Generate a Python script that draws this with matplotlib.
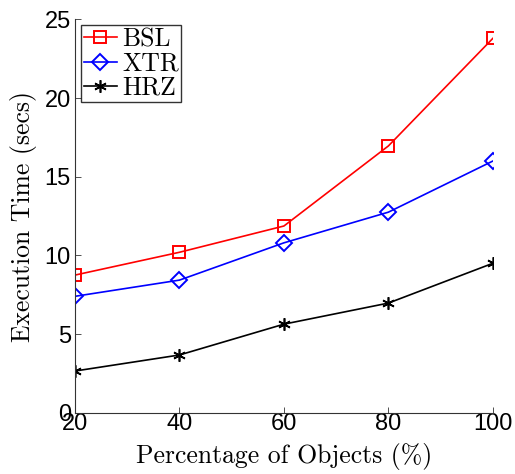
import matplotlib
matplotlib.use("Agg")
import matplotlib.pyplot as plt

# Execution time vs. percentage of objects
pct = [20, 40, 60, 80, 100]
bsl = [8.75, 10.2, 11.87, 16.96, 23.8]
xtr = [7.4, 8.43, 10.8, 12.75, 16.0]
hrz = [2.65, 3.67, 5.63, 6.97, 9.5]
x_ticks = [20, 40, 60, 80, 100]
y_ticks = [0, 5, 10, 15, 20, 25]

W, H = 515, 474
fig = plt.figure(figsize=(W / 100, H / 100), dpi=100)
ax = fig.add_axes([0.1456, 0.1293, 0.8114, 0.8296])

ax.plot(pct, bsl, color="red", lw=1.2, marker="s", ms=8, mfc="none",
        mec="red", mew=1.4, label="BSL")
ax.plot(pct, xtr, color="blue", lw=1.2, marker="D", ms=8.5, mfc="none",
        mec="blue", mew=1.4, label="XTR")
ax.plot(pct, hrz, color="black", lw=1.2, marker=(6, 2, 0), ms=9,
        mec="black", mew=1.2, label="HRZ")

ax.set_xlim(20, 100)
ax.set_ylim(0, 25)
ax.set_xticks(x_ticks)
ax.set_yticks(y_ticks)
ax.spines["top"].set_visible(False)
ax.spines["right"].set_visible(False)
for s in ("left", "bottom"):
    ax.spines[s].set_linewidth(0.8)
    ax.spines[s].set_color("#333333")
ax.tick_params(direction="in", length=4, width=0.6, labelsize=17,
               colors="#333333", labelcolor="black")
ax.tick_params(axis="x", pad=0)
ax.tick_params(axis="y", pad=3)
for lab in ax.get_xticklabels() + ax.get_yticklabels():
    lab.set_family(["Liberation Sans", "DejaVu Sans"])

serif = ["cmr10", "DejaVu Serif"]
ax.set_xlabel("Percentage of Objects (%)", family=serif, fontsize=18.5)
ax.set_ylabel("Execution Time (secs)", family=serif, fontsize=18.5)
ax.xaxis.set_label_coords(0.5, -0.078)
ax.yaxis.set_label_coords(-0.09, 0.5)

leg = ax.legend(loc="upper left", bbox_to_anchor=(81 / W, 1 - 25 / H),
                bbox_transform=fig.transFigure,
                prop={"family": serif, "size": 18.5},
                frameon=True, fancybox=False, edgecolor="black",
                handlelength=1.3, handletextpad=0.2, borderpad=0.1,
                labelspacing=0.02, borderaxespad=0)
leg.get_frame().set_linewidth(1.0)

fig.savefig("out.png", dpi=100)
